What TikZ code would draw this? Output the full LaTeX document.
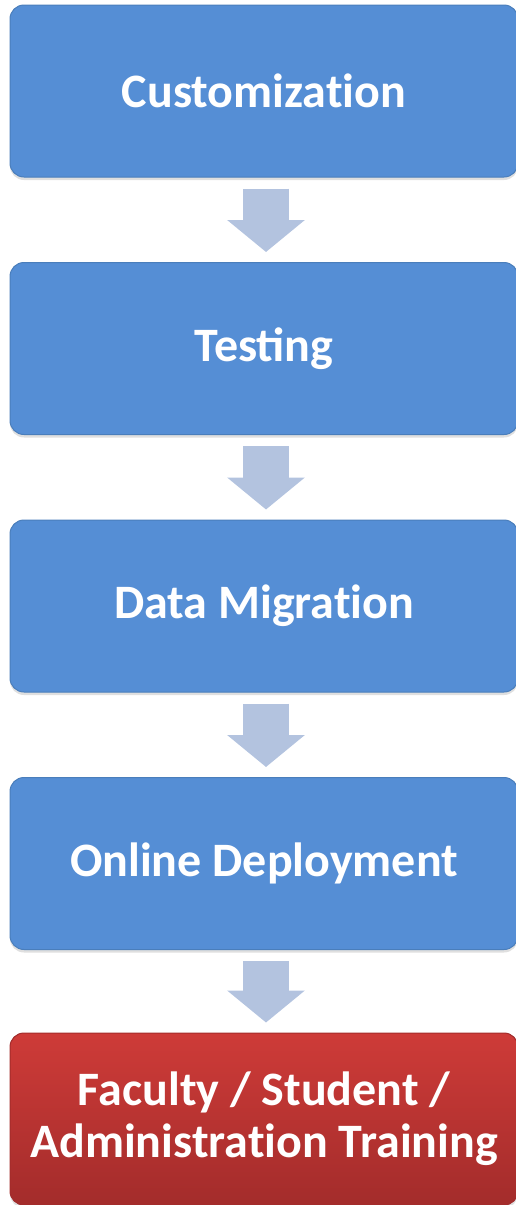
\documentclass[tikz,border=0pt]{standalone}
\usepackage{fontspec}
\setmainfont{Carlito}
\usetikzlibrary{arrows.meta,shadows}
\definecolor{stageblue}{HTML}{558ED5}
\definecolor{stageline}{HTML}{4A7EBB}
\definecolor{redtop}{HTML}{CE3B38}
\definecolor{redbottom}{HTML}{A32C2B}
\definecolor{flowblue}{HTML}{B3C3DF}
\newcommand\tsplit{t\kern0pt i}
\begin{document}
\begin{tikzpicture}[x=1pt,y=-1pt,
  stagebox/.style={draw=stageline, line width=1pt, fill=stageblue, rounded corners=14pt,
    minimum width=508pt, minimum height=172pt, inner sep=0pt, text=white, align=center,
    font=\fontsize{48}{52}\selectfont\bfseries,
    drop shadow={opacity=0.25, shadow xshift=0pt, shadow yshift=-3pt}},
  finalbox/.style={stagebox, draw=redbottom, top color=redtop, bottom color=redbottom},
  flow/.style={line width=46pt, draw=flowblue, -{Triangle[length=32pt,width=76pt]}}]
  \useasboundingbox (0,0) rectangle (516,1205);
  \node[stagebox] (cust) at (264,91) {Customiza\tsplit on};
  \node[stagebox] (test) at (264,348.5) {Testing};
  \node[stagebox] (data) at (264,606) {Data Migra\tsplit on};
  \node[stagebox] (deploy) at (264,863.5) {Online Deployment};
  \node[finalbox] (train) at (264,1119) {Faculty / Student /\\Administra\tsplit on Training};
  \foreach \a/\b in {cust/test, test/data, data/deploy, deploy/train}
    \draw[flow] ([xshift=2pt,yshift=-11pt]\a.south) -- ([xshift=2pt,yshift=10pt]\b.north);
\end{tikzpicture}
\end{document}
